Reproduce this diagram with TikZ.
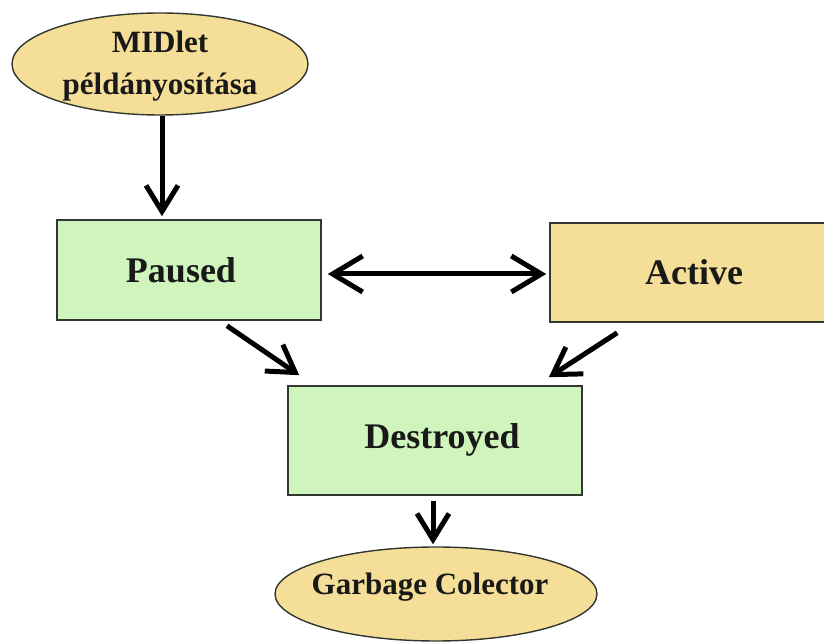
\documentclass[tikz,border=0pt]{standalone}
\usepackage{fontspec}
\setmainfont{Liberation Serif}
\usetikzlibrary{arrows.meta,shapes.geometric}
\definecolor{boxgreen}{RGB}{207,244,188}
\definecolor{boxyellow}{RGB}{245,223,152}
\definecolor{edgegray}{RGB}{50,55,50}
\tikzset{
  statebox/.style={draw=edgegray, line width=1.6pt, rectangle, inner sep=0pt},
  greenbox/.style={statebox, fill=boxgreen},
  yellowbox/.style={statebox, fill=boxyellow},
  ellnode/.style={draw=edgegray, line width=1.4pt, ellipse, fill=boxyellow, inner sep=0pt},
  boxtext/.style={font=\bfseries\fontsize{36}{43}\selectfont, text=black!90},
  elltext/.style={font=\bfseries\fontsize{31}{42}\selectfont, text=black!90, align=center},
  flow/.style={line width=5pt, -{Straight Barb[length=26pt,width=32pt,line width=5pt]}},
  flowboth/.style={line width=5pt, {Straight Barb[length=30pt,width=36pt,line width=5pt]}-{Straight Barb[length=30pt,width=36pt,line width=5pt]}}
}
\begin{document}
\begin{tikzpicture}[x=1pt,y=1pt]
\clip (0,0) rectangle (824,642);
\fill[white] (0,0) rectangle (824,642);

% nodes
\node[ellnode, minimum width=296pt, minimum height=102pt] (mid) at (160,578) {};
\node[elltext] (midtxt) at (160,576) {MIDlet\\példányosítása};

\node[greenbox, minimum width=264pt, minimum height=100pt] (paused) at (189,372) {};
\node[boxtext] (pausedtxt) at (181,372) {Paused};

\node[yellowbox, minimum width=284pt, minimum height=99pt] (active) at (692,369.5) {};
\node[boxtext] (activetxt) at (694,370) {Active};

\node[greenbox, minimum width=294pt, minimum height=109pt] (destroyed) at (435,201.5) {};
\node[boxtext] (destroyedtxt) at (442,202) {Destroyed};

\node[ellnode, minimum width=322pt, minimum height=94pt] (gc) at (436,48) {};
\node[elltext] (gctxt) at (430,55) {Garbage Colector};

% connectors
\draw[flow] ([xshift=2pt]mid.south) -- ([xshift=2pt,yshift=3pt]mid.south |- paused.north);
\draw[flowboth] ([xshift=6pt,yshift=-4pt]paused.east) -- ([xshift=-3pt,yshift=-4pt]paused.east -| active.west);
\draw[flow] ([xshift=38pt,yshift=-5pt]paused.south) -- ([xshift=12pt,yshift=10pt]destroyed.north west);
\draw[flow] ([xshift=68pt,yshift=-10pt]active.south west) -- ([xshift=-34pt,yshift=8pt]destroyed.north east);
\draw[flow] ([xshift=-2pt,yshift=-5pt]destroyed.south) -- ([xshift=-3pt,yshift=2pt]gc.north);
\end{tikzpicture}
\end{document}
